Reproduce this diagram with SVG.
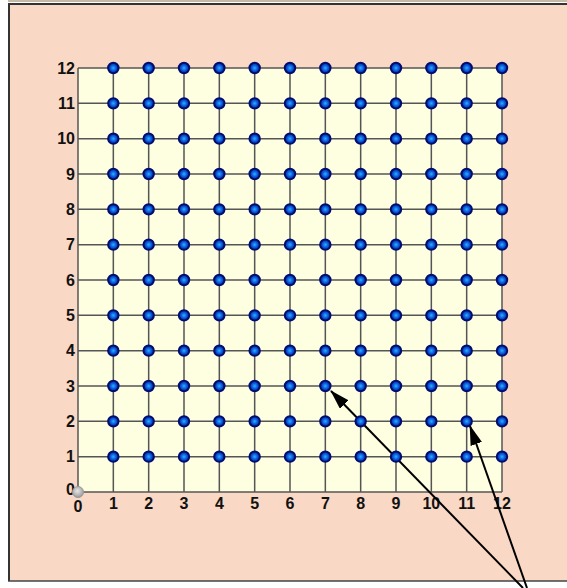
<svg xmlns="http://www.w3.org/2000/svg" width="567" height="588" viewBox="0 0 567 588">
<defs>
<radialGradient id="bp" cx="0.5" cy="0.5" r="0.5">
<stop offset="0" stop-color="#30b0ff"/>
<stop offset="0.5" stop-color="#0a60e0"/>
<stop offset="1" stop-color="#06208a"/>
</radialGradient>
<radialGradient id="gp" cx="0.45" cy="0.4" r="0.6">
<stop offset="0" stop-color="#e8e8e8"/>
<stop offset="1" stop-color="#9a9a9a"/>
</radialGradient>
<marker id="ah2" viewBox="0 0 20 12" refX="19" refY="6" markerWidth="20" markerHeight="12" orient="auto" markerUnits="userSpaceOnUse">
<path d="M0,0 L20,6 L0,12 z" fill="#000"/>
</marker>
</defs>
<style>
.gl{stroke:#555;stroke-width:1.5;fill:none}
.lb{font-family:"Liberation Sans",Arial,sans-serif;font-weight:bold;font-size:16px;fill:#111}
.pt{fill:url(#bp);stroke:#000c6e;stroke-width:2}
.ar{stroke:#000;stroke-width:2;fill:none}
</style>
<rect x="0" y="0" width="567" height="588" fill="#ffffff"/>
<g id="panel">
<rect x="8" y="3" width="570" height="578" fill="#f9d8c5"/>
<line x1="8" y1="1" x2="567" y2="1" stroke="#c8b8a8" stroke-width="2"/>
<line x1="8" y1="4" x2="567" y2="4" stroke="#333" stroke-width="2"/>
<line x1="9" y1="3" x2="9" y2="581" stroke="#333" stroke-width="2"/>
<line x1="8" y1="581" x2="567" y2="581" stroke="#444" stroke-width="1.5"/>
</g>
<g id="grid">
<rect x="78" y="68" width="424" height="424" fill="#fefee0"/>
<path class="gl" d="M78,68V492M113.33,68V492M148.67,68V492M184,68V492M219.33,68V492M254.67,68V492M290,68V492M325.33,68V492M360.67,68V492M396,68V492M431.33,68V492M466.67,68V492M502,68V492M78,68H502M78,103.33H502M78,138.67H502M78,174H502M78,209.33H502M78,244.67H502M78,280H502M78,315.33H502M78,350.67H502M78,386H502M78,421.33H502M78,456.67H502M78,492H502"/>
</g>
<g id="ylabels" class="lb" text-anchor="end">
<text x="75" y="74">12</text>
<text x="75" y="109">11</text>
<text x="75" y="144">10</text>
<text x="75" y="180">9</text>
<text x="75" y="215">8</text>
<text x="75" y="250">7</text>
<text x="75" y="286">6</text>
<text x="75" y="321">5</text>
<text x="75" y="356">4</text>
<text x="75" y="392">3</text>
<text x="75" y="427">2</text>
<text x="75" y="462">1</text>
<text x="75" y="495">0</text>
</g>
<g id="xlabels" class="lb" text-anchor="middle">
<text x="78" y="512">0</text>
<text x="113.33" y="509">1</text>
<text x="148.67" y="509">2</text>
<text x="184" y="509">3</text>
<text x="219.33" y="509">4</text>
<text x="254.67" y="509">5</text>
<text x="290" y="509">6</text>
<text x="325.33" y="509">7</text>
<text x="360.67" y="509">8</text>
<text x="396" y="509">9</text>
<text x="431.33" y="509">10</text>
<text x="466.67" y="509">11</text>
<text x="502" y="509">12</text>
</g>
<g id="origin">
<circle cx="78" cy="492" r="5.5" fill="url(#gp)" stroke="#999" stroke-width="1"/>
</g>
<g id="connectors">
<line class="ar" x1="523" y1="588" x2="331" y2="391" marker-end="url(#ah2)"/>
<line class="ar" x1="527" y1="588" x2="470" y2="426" marker-end="url(#ah2)"/>
</g>
<g id="dots">
<circle class="pt" cx="113.33" cy="68" r="5.2"/><circle class="pt" cx="148.67" cy="68" r="5.2"/><circle class="pt" cx="184" cy="68" r="5.2"/><circle class="pt" cx="219.33" cy="68" r="5.2"/><circle class="pt" cx="254.67" cy="68" r="5.2"/><circle class="pt" cx="290" cy="68" r="5.2"/><circle class="pt" cx="325.33" cy="68" r="5.2"/><circle class="pt" cx="360.67" cy="68" r="5.2"/><circle class="pt" cx="396" cy="68" r="5.2"/><circle class="pt" cx="431.33" cy="68" r="5.2"/><circle class="pt" cx="466.67" cy="68" r="5.2"/><circle class="pt" cx="502" cy="68" r="5.2"/>
<circle class="pt" cx="113.33" cy="103.33" r="5.2"/><circle class="pt" cx="148.67" cy="103.33" r="5.2"/><circle class="pt" cx="184" cy="103.33" r="5.2"/><circle class="pt" cx="219.33" cy="103.33" r="5.2"/><circle class="pt" cx="254.67" cy="103.33" r="5.2"/><circle class="pt" cx="290" cy="103.33" r="5.2"/><circle class="pt" cx="325.33" cy="103.33" r="5.2"/><circle class="pt" cx="360.67" cy="103.33" r="5.2"/><circle class="pt" cx="396" cy="103.33" r="5.2"/><circle class="pt" cx="431.33" cy="103.33" r="5.2"/><circle class="pt" cx="466.67" cy="103.33" r="5.2"/><circle class="pt" cx="502" cy="103.33" r="5.2"/>
<circle class="pt" cx="113.33" cy="138.67" r="5.2"/><circle class="pt" cx="148.67" cy="138.67" r="5.2"/><circle class="pt" cx="184" cy="138.67" r="5.2"/><circle class="pt" cx="219.33" cy="138.67" r="5.2"/><circle class="pt" cx="254.67" cy="138.67" r="5.2"/><circle class="pt" cx="290" cy="138.67" r="5.2"/><circle class="pt" cx="325.33" cy="138.67" r="5.2"/><circle class="pt" cx="360.67" cy="138.67" r="5.2"/><circle class="pt" cx="396" cy="138.67" r="5.2"/><circle class="pt" cx="431.33" cy="138.67" r="5.2"/><circle class="pt" cx="466.67" cy="138.67" r="5.2"/><circle class="pt" cx="502" cy="138.67" r="5.2"/>
<circle class="pt" cx="113.33" cy="174" r="5.2"/><circle class="pt" cx="148.67" cy="174" r="5.2"/><circle class="pt" cx="184" cy="174" r="5.2"/><circle class="pt" cx="219.33" cy="174" r="5.2"/><circle class="pt" cx="254.67" cy="174" r="5.2"/><circle class="pt" cx="290" cy="174" r="5.2"/><circle class="pt" cx="325.33" cy="174" r="5.2"/><circle class="pt" cx="360.67" cy="174" r="5.2"/><circle class="pt" cx="396" cy="174" r="5.2"/><circle class="pt" cx="431.33" cy="174" r="5.2"/><circle class="pt" cx="466.67" cy="174" r="5.2"/><circle class="pt" cx="502" cy="174" r="5.2"/>
<circle class="pt" cx="113.33" cy="209.33" r="5.2"/><circle class="pt" cx="148.67" cy="209.33" r="5.2"/><circle class="pt" cx="184" cy="209.33" r="5.2"/><circle class="pt" cx="219.33" cy="209.33" r="5.2"/><circle class="pt" cx="254.67" cy="209.33" r="5.2"/><circle class="pt" cx="290" cy="209.33" r="5.2"/><circle class="pt" cx="325.33" cy="209.33" r="5.2"/><circle class="pt" cx="360.67" cy="209.33" r="5.2"/><circle class="pt" cx="396" cy="209.33" r="5.2"/><circle class="pt" cx="431.33" cy="209.33" r="5.2"/><circle class="pt" cx="466.67" cy="209.33" r="5.2"/><circle class="pt" cx="502" cy="209.33" r="5.2"/>
<circle class="pt" cx="113.33" cy="244.67" r="5.2"/><circle class="pt" cx="148.67" cy="244.67" r="5.2"/><circle class="pt" cx="184" cy="244.67" r="5.2"/><circle class="pt" cx="219.33" cy="244.67" r="5.2"/><circle class="pt" cx="254.67" cy="244.67" r="5.2"/><circle class="pt" cx="290" cy="244.67" r="5.2"/><circle class="pt" cx="325.33" cy="244.67" r="5.2"/><circle class="pt" cx="360.67" cy="244.67" r="5.2"/><circle class="pt" cx="396" cy="244.67" r="5.2"/><circle class="pt" cx="431.33" cy="244.67" r="5.2"/><circle class="pt" cx="466.67" cy="244.67" r="5.2"/><circle class="pt" cx="502" cy="244.67" r="5.2"/>
<circle class="pt" cx="113.33" cy="280" r="5.2"/><circle class="pt" cx="148.67" cy="280" r="5.2"/><circle class="pt" cx="184" cy="280" r="5.2"/><circle class="pt" cx="219.33" cy="280" r="5.2"/><circle class="pt" cx="254.67" cy="280" r="5.2"/><circle class="pt" cx="290" cy="280" r="5.2"/><circle class="pt" cx="325.33" cy="280" r="5.2"/><circle class="pt" cx="360.67" cy="280" r="5.2"/><circle class="pt" cx="396" cy="280" r="5.2"/><circle class="pt" cx="431.33" cy="280" r="5.2"/><circle class="pt" cx="466.67" cy="280" r="5.2"/><circle class="pt" cx="502" cy="280" r="5.2"/>
<circle class="pt" cx="113.33" cy="315.33" r="5.2"/><circle class="pt" cx="148.67" cy="315.33" r="5.2"/><circle class="pt" cx="184" cy="315.33" r="5.2"/><circle class="pt" cx="219.33" cy="315.33" r="5.2"/><circle class="pt" cx="254.67" cy="315.33" r="5.2"/><circle class="pt" cx="290" cy="315.33" r="5.2"/><circle class="pt" cx="325.33" cy="315.33" r="5.2"/><circle class="pt" cx="360.67" cy="315.33" r="5.2"/><circle class="pt" cx="396" cy="315.33" r="5.2"/><circle class="pt" cx="431.33" cy="315.33" r="5.2"/><circle class="pt" cx="466.67" cy="315.33" r="5.2"/><circle class="pt" cx="502" cy="315.33" r="5.2"/>
<circle class="pt" cx="113.33" cy="350.67" r="5.2"/><circle class="pt" cx="148.67" cy="350.67" r="5.2"/><circle class="pt" cx="184" cy="350.67" r="5.2"/><circle class="pt" cx="219.33" cy="350.67" r="5.2"/><circle class="pt" cx="254.67" cy="350.67" r="5.2"/><circle class="pt" cx="290" cy="350.67" r="5.2"/><circle class="pt" cx="325.33" cy="350.67" r="5.2"/><circle class="pt" cx="360.67" cy="350.67" r="5.2"/><circle class="pt" cx="396" cy="350.67" r="5.2"/><circle class="pt" cx="431.33" cy="350.67" r="5.2"/><circle class="pt" cx="466.67" cy="350.67" r="5.2"/><circle class="pt" cx="502" cy="350.67" r="5.2"/>
<circle class="pt" cx="113.33" cy="386" r="5.2"/><circle class="pt" cx="148.67" cy="386" r="5.2"/><circle class="pt" cx="184" cy="386" r="5.2"/><circle class="pt" cx="219.33" cy="386" r="5.2"/><circle class="pt" cx="254.67" cy="386" r="5.2"/><circle class="pt" cx="290" cy="386" r="5.2"/><circle class="pt" cx="325.33" cy="386" r="5.2"/><circle class="pt" cx="360.67" cy="386" r="5.2"/><circle class="pt" cx="396" cy="386" r="5.2"/><circle class="pt" cx="431.33" cy="386" r="5.2"/><circle class="pt" cx="466.67" cy="386" r="5.2"/><circle class="pt" cx="502" cy="386" r="5.2"/>
<circle class="pt" cx="113.33" cy="421.33" r="5.2"/><circle class="pt" cx="148.67" cy="421.33" r="5.2"/><circle class="pt" cx="184" cy="421.33" r="5.2"/><circle class="pt" cx="219.33" cy="421.33" r="5.2"/><circle class="pt" cx="254.67" cy="421.33" r="5.2"/><circle class="pt" cx="290" cy="421.33" r="5.2"/><circle class="pt" cx="325.33" cy="421.33" r="5.2"/><circle class="pt" cx="360.67" cy="421.33" r="5.2"/><circle class="pt" cx="396" cy="421.33" r="5.2"/><circle class="pt" cx="431.33" cy="421.33" r="5.2"/><circle class="pt" cx="466.67" cy="421.33" r="5.2"/><circle class="pt" cx="502" cy="421.33" r="5.2"/>
<circle class="pt" cx="113.33" cy="456.67" r="5.2"/><circle class="pt" cx="148.67" cy="456.67" r="5.2"/><circle class="pt" cx="184" cy="456.67" r="5.2"/><circle class="pt" cx="219.33" cy="456.67" r="5.2"/><circle class="pt" cx="254.67" cy="456.67" r="5.2"/><circle class="pt" cx="290" cy="456.67" r="5.2"/><circle class="pt" cx="325.33" cy="456.67" r="5.2"/><circle class="pt" cx="360.67" cy="456.67" r="5.2"/><circle class="pt" cx="396" cy="456.67" r="5.2"/><circle class="pt" cx="431.33" cy="456.67" r="5.2"/><circle class="pt" cx="466.67" cy="456.67" r="5.2"/><circle class="pt" cx="502" cy="456.67" r="5.2"/>
</g>
</svg>
